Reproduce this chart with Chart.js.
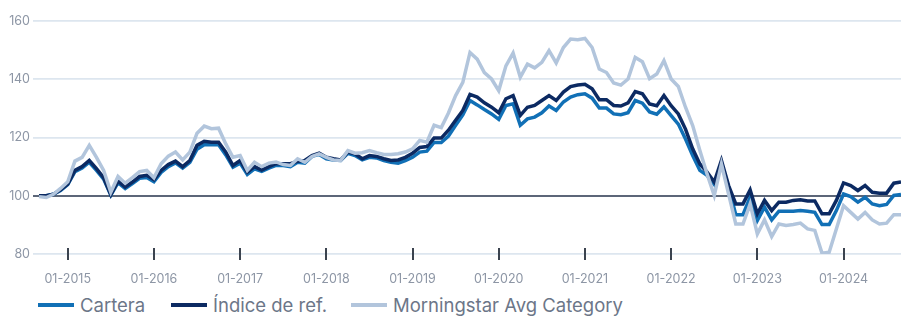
<!DOCTYPE html>
<html>
<head>
<meta charset="utf-8">
<script src="https://cdn.jsdelivr.net/npm/chart.js@4"></script>
<style>
  body { margin: 0; background: #fff; }
  #wrap { position: relative; width: 901px; height: 316px; }
  #legend { position: absolute; top: 294px; left: 0; height: 22px; width: 901px; font-family: Inter, "Noto Sans", sans-serif; font-size: 18.5px; color: #6c7688; }
  .item { position: absolute; top: 0; display: flex; align-items: center; height: 22px; white-space: nowrap; }
  .swatch { width: 36px; height: 4px; margin-right: 6px; }
</style>
</head>
<body>
<div id="wrap">
  <canvas id="chart" width="901" height="290"></canvas>
  <div id="legend"></div>
</div>
<script>
// monthly, Sep 2014 - Sep 2024
const startYear = 2014;
const startMonth = 9;
const seriesNames = ["Cartera", "Índice de ref.", "Morningstar Avg Category"];
const seriesColors = ["#1170b6", "#0c2a62", "#b2c5dc"];

const cartera = [100, 100, 100.5, 101.8, 103.8, 108.3, 109.5, 111.5, 108.7, 105.7, 100.2, 104.5, 102.5, 104.2, 106, 106.3, 104.8, 108, 110, 111.3, 109.5, 111.5, 116, 117.5,
  117.5, 117.5, 114, 109.8, 111.2, 107.3, 109.2, 108.4, 109.5, 110.4, 110.4, 110, 111.5, 111.2, 113.5, 114.2, 112.7, 112.3, 112.1, 114.6, 113.8, 112.3, 113.2, 113, 112.1,
  111.5, 111.2, 112.1, 113.2, 115, 115.3, 118.3, 118.3, 120.5, 124.2, 127.8, 132.7, 131.2, 129.6, 128.1, 126.2, 131, 131.6, 124.2, 126.4, 127, 128.5, 130.8, 129.3, 132.2,
  133.9, 134.7, 135, 133.5, 130.1, 130.1, 128.1, 127.8, 128.5, 132.7, 131.8, 128.8, 128, 130.5, 127.5, 124.6, 119.5, 113.8, 108.7, 107, 103.9, 110.9, 102.9, 93.5, 93.5,
  99.5, 91.5, 96.1, 91.7, 94.7, 94.7, 94.7, 94.9, 94.7, 94.3, 90.1, 90.1, 94.9, 100.6, 99.7, 97.8, 99.5, 97.2, 96.6, 97, 100.1, 100.4];

const indice = [100, 100, 100.5, 102, 104, 108.7, 110, 112.1, 109.3, 106.2, 100.4, 105, 103, 104.7, 106.6, 107, 105.5, 108.7, 110.7, 111.9, 110, 112.1, 117.3, 118.7,
  118.4, 118.4, 115, 110.4, 112.1, 108.1, 110, 108.8, 110, 111, 111, 111, 111.8, 112.1, 113.8, 114.6, 113.2, 112.7, 112.3, 115, 114.4, 112.7, 113.8, 113.5, 112.7,
  112.1, 112.3, 113.2, 114.6, 116.6, 116.9, 119.8, 119.8, 122.5, 125.9, 129.3, 134.8, 133.9, 131.9, 130.4, 128.5, 133.3, 134.4, 127.6, 130.4, 131, 132.7, 134.4, 132.7,
  135.6, 137.5, 138, 138.3, 136.7, 133, 133, 131, 130.8, 131.9, 135.8, 135, 131.5, 130.9, 134.4, 130.9, 128.1, 122.9, 116.1, 110.9, 108.1, 104.7, 112.1, 103.5, 97.2,
  97.2, 102, 93.8, 98.4, 94.9, 97.8, 97.8, 98.4, 98.6, 98.2, 98.2, 93.8, 93.8, 98.4, 104.4, 103.5, 101.8, 103.5, 101.2, 100.9, 100.9, 104.3, 104.7];

const morningstar = [99.7, 99.4, 100.5, 102.5, 104.8, 111.9, 113.2, 117.3, 113.2, 108.7, 101.2, 106.6, 104.3, 106.2, 108.3, 108.7, 106.2, 111, 113.6, 115, 112.3, 115,
  121.5, 123.9, 123, 123.2, 117.8, 113.2, 113.8, 108.7, 111.5, 110, 111.2, 111.6, 110.7, 110.4, 112.7, 111.5, 113.5, 114.4, 113.2, 112.3, 112.1, 115.5, 114.6, 114.8,
  115.5, 114.8, 114.2, 114.2, 114.4, 115, 116.1, 119, 118.4, 124.2, 123.4, 128.4, 134.4, 138.9, 149.2, 146.9, 142.3, 140.1, 136.1, 144.6, 149, 140.7, 145.2, 143.9,
  145.8, 149.8, 145.6, 150.9, 153.8, 153.6, 154, 150.9, 143.5, 142.3, 138.7, 138, 140.1, 147.5, 146, 140.2, 141.8, 146.4, 140.1, 137.5, 130.4, 124.1, 115.5, 107.5,
  100.1, 110.9, 100.6, 90.3, 90.3, 97.2, 86.9, 91.7, 86, 90.3, 89.8, 90.1, 90.6, 88.6, 88.1, 80.3, 80.6, 88.6, 96.6, 94.3, 92, 94.3, 91.7, 90.3, 90.6, 93.5, 93.5];

const yTicks = [80, 100, 120, 140, 160];

const months = [];
for (let i = 0; i < cartera.length; i++) {
  const m = (startMonth - 1 + i) % 12 + 1;
  const y = startYear + Math.floor((startMonth - 1 + i) / 12);
  months.push(String(m).padStart(2, "0") + "-" + y);
}

const font = "Inter, 'Noto Sans', sans-serif";

// short dark marks at each January, across the bottom axis line
const janTicks = {
  id: "janTicks",
  afterDraw(chart) {
    const ctx = chart.ctx;
    const xs = chart.scales.x;
    const bottom = chart.chartArea.bottom;
    ctx.save();
    ctx.strokeStyle = "#3b434f";
    ctx.lineWidth = 2;
    months.forEach((lbl, i) => {
      if (!lbl.startsWith("01-")) return;
      const x = Math.round(xs.getPixelForValue(i));
      ctx.beginPath();
      ctx.moveTo(x, bottom - 6);
      ctx.lineTo(x, bottom + 6);
      ctx.stroke();
    });
    ctx.restore();
  }
};

const data = [cartera, indice, morningstar];
const datasets = data.map((d, i) => ({
  label: seriesNames[i],
  data: d,
  borderColor: seriesColors[i],
  backgroundColor: seriesColors[i],
  borderWidth: 3.5,
  pointRadius: 0,
  tension: 0,
  order: 2 - i
}));

new Chart(document.getElementById("chart"), {
  type: "line",
  data: { labels: months, datasets },
  plugins: [janTicks],
  options: {
    responsive: false,
    animation: false,
    devicePixelRatio: 1,
    layout: { padding: { top: 21, left: 0, right: 0, bottom: 0 } },
    plugins: { legend: { display: false }, tooltip: { enabled: false } },
    scales: {
      x: {
        grid: { display: false },
        border: { display: false },
        afterFit: s => { s.height = 36; },
        ticks: {
          autoSkip: false,
          maxRotation: 0,
          padding: 10,
          color: "#8d96a5",
          font: { family: font, size: 12.5 },
          callback: (v, i) => months[i].startsWith("01-") ? months[i] : null
        }
      },
      y: {
        min: 80,
        max: 160,
        afterFit: s => { s.width = 39; },
        afterBuildTicks: s => { s.ticks = yTicks.map(v => ({ value: v })); },
        border: { display: false },
        grid: {
          tickLength: 6,
          color: c => c.tick && c.tick.value === 100 ? "#5c6678" : "#dde6ef",
          lineWidth: c => c.tick && c.tick.value === 100 ? 2 : 1.8
        },
        ticks: {
          padding: 3,
          color: "#8d96a5",
          font: { family: font, size: 12.5 }
        }
      }
    }
  }
});

// legend
const legendPos = [38, 171, 351];
const legend = document.getElementById("legend");
seriesNames.forEach((name, i) => {
  const item = document.createElement("div");
  item.className = "item";
  item.style.left = legendPos[i] + "px";
  item.innerHTML = `<span class="swatch" style="background:${seriesColors[i]}"></span><span>${name}</span>`;
  legend.appendChild(item);
});
</script>
</body>
</html>
